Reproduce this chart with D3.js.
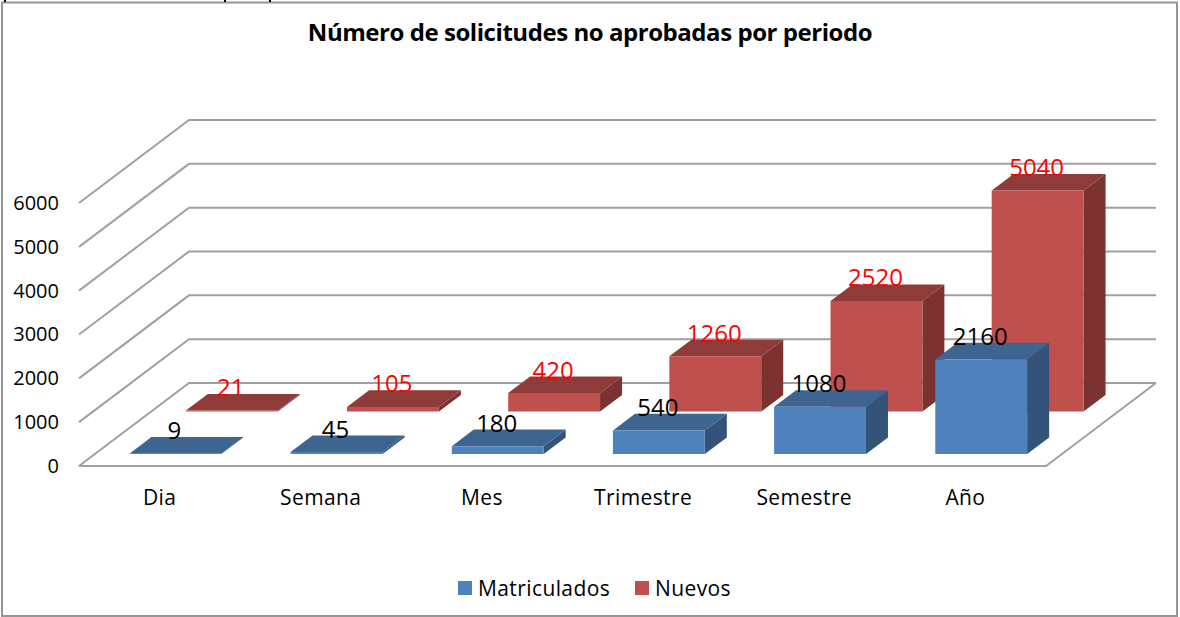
<!doctype html>
<html>
  <head>
  <meta charset="utf-8">
  <script type="text/javascript" src="https://cdn.jsdelivr.net/npm/d3@7/dist/d3.min.js"></script>
  <style>
    html, body { margin: 0; padding: 0; background: #fff; overflow: hidden; }
    svg { display: block; font-family: "Open Sans", sans-serif; }
  </style>
</head>
  <body>
<svg xmlns="http://www.w3.org/2000/svg" width="1180" height="617" viewBox="0 0 1180 617"></svg>
<script type="text/javascript">
var chartTitle = "Número de solicitudes no aprobadas por periodo";
var periods = ["Dia", "Semana", "Mes", "Trimestre", "Semestre", "Año"];
var seriesNames = ["Matriculados", "Nuevos"];
var matriculados = [9, 45, 180, 540, 1080, 2160];
var nuevos = [21, 105, 420, 1260, 2520, 5040];
var valueTicks = [0, 1000, 2000, 3000, 4000, 5000, 6000];

var seriesValues = { Matriculados: matriculados, Nuevos: nuevos };
var seriesColors = {
  Matriculados: { front: "#4f81bd", top: "#3e6490", side: "#335378", label: "#000000" },
  Nuevos: { front: "#c0504d", top: "#8f3b39", side: "#7c3230", label: "#ff0000" }
};
var gridColor = "#a0a0a0";

var svg = d3.select("svg");

// oblique projection: floor front edge plus a depth shift towards the back wall
var floorLeft = 79, floorRight = 1046, floorY = 466;
var depthX = d3.scaleLinear().domain([0, 1]).range([0, 110]);
var depthY = d3.scaleLinear().domain([0, 1]).range([0, -83]);
var xScale = d3.scaleBand().domain(periods).range([floorLeft, floorRight]).paddingInner(0.43).paddingOuter(0.215);
var yScale = d3.scaleLinear().domain([0, 6000]).range([floorY, 203]);
var zScale = d3.scaleBand().domain(seriesNames).range([0, 1]).paddingInner(0.61).paddingOuter(0.28);

function project(x, value, z) {
  return [x + depthX(z), yScale(value) + depthY(z)];
}
function pathOf(points) {
  return d3.line()(points) + "Z";
}

svg.append("rect")
  .attr("x", 2).attr("y", 2.5).attr("width", 1175).attr("height", 613.5)
  .attr("fill", "#fff").attr("stroke", "#969696").attr("stroke-width", 2);

// bits of the line of text cut off above the frame
svg.append("g").attr("fill", "#000").selectAll("rect")
  .data([4, 224, 269])
  .enter().append("rect")
  .attr("x", d => d).attr("y", 0).attr("width", 2).attr("height", 2);

// walls
var grid = svg.append("g").attr("fill", "none").attr("stroke", gridColor).attr("stroke-width", 2);
valueTicks.forEach(v => {
  grid.append("path").attr("d", d3.line()([
    project(floorLeft, v, 0), project(floorLeft, v, 1), project(floorRight, v, 1)
  ]));
});
grid.append("path").attr("d", d3.line()([
  project(floorLeft, 0, 0), project(floorRight, 0, 0), project(floorRight, 0, 1)
]));

// bars, back row first
seriesNames.slice().reverse().forEach(name => {
  var c = seriesColors[name];
  var z0 = zScale(name), z1 = z0 + zScale.bandwidth();
  var g = svg.append("g").attr("class", "series");
  periods.forEach((p, i) => {
    var v = seriesValues[name][i];
    var x0 = xScale(p), x1 = x0 + xScale.bandwidth();
    g.append("path").attr("fill", c.side).attr("d", pathOf([
      project(x1, 0, z0), project(x1, v, z0), project(x1, v, z1), project(x1, 0, z1)
    ]));
    g.append("path").attr("fill", c.top).attr("d", pathOf([
      project(x0, v, z0), project(x1, v, z0), project(x1, v, z1), project(x0, v, z1)
    ]));
    g.append("path").attr("fill", c.front).attr("d", pathOf([
      project(x0, 0, z0), project(x1, 0, z0), project(x1, v, z0), project(x0, v, z0)
    ]));
  });
});

// data labels
seriesNames.forEach(name => {
  var z0 = zScale(name), z1 = z0 + zScale.bandwidth();
  periods.forEach((p, i) => {
    var v = seriesValues[name][i];
    var pt = project(xScale(p) + xScale.bandwidth() / 2, v, z1);
    svg.append("text")
      .attr("x", pt[0] - depthX(z1 - z0) - 1)
      .attr("y", pt[1] + 2)
      .attr("text-anchor", "middle")
      .attr("font-size", 24)
      .attr("fill", seriesColors[name].label)
      .text(v);
  });
});

// axes
var yAxis = d3.axisLeft(yScale).tickValues(valueTicks).tickSize(0).tickPadding(20).tickFormat(d3.format("d"));
svg.append("g").attr("transform", "translate(" + floorLeft + ",0)").call(yAxis)
  .call(g => g.select(".domain").remove())
  .call(g => g.selectAll("text").attr("font-family", "Open Sans").attr("font-size", 20).attr("fill", "#000"));

var xAxis = d3.axisBottom(xScale).tickSize(0).tickPadding(24);
svg.append("g").attr("transform", "translate(0," + floorY + ")").call(xAxis)
  .call(g => g.select(".domain").remove())
  .call(g => g.selectAll("text").attr("font-family", "Open Sans").attr("font-size", 21).attr("letter-spacing", 0.4).attr("fill", "#000"));

// title
svg.append("text")
  .attr("x", 590).attr("y", 41)
  .attr("text-anchor", "middle")
  .attr("font-size", 24).attr("font-weight", 700)
  .attr("letter-spacing", -0.45)
  .attr("fill", "#000")
  .text(chartTitle);

// legend
var legendX = d3.scaleOrdinal().domain(seriesNames).range([458, 635]);
seriesNames.forEach(name => {
  svg.append("rect")
    .attr("x", legendX(name)).attr("y", 581).attr("width", 14).attr("height", 14)
    .attr("fill", seriesColors[name].front);
  svg.append("text")
    .attr("x", legendX(name) + 20).attr("y", 596)
    .attr("font-size", 21).attr("letter-spacing", 0.4).attr("fill", "#000")
    .text(name);
});
    </script>
</body>
</html>
